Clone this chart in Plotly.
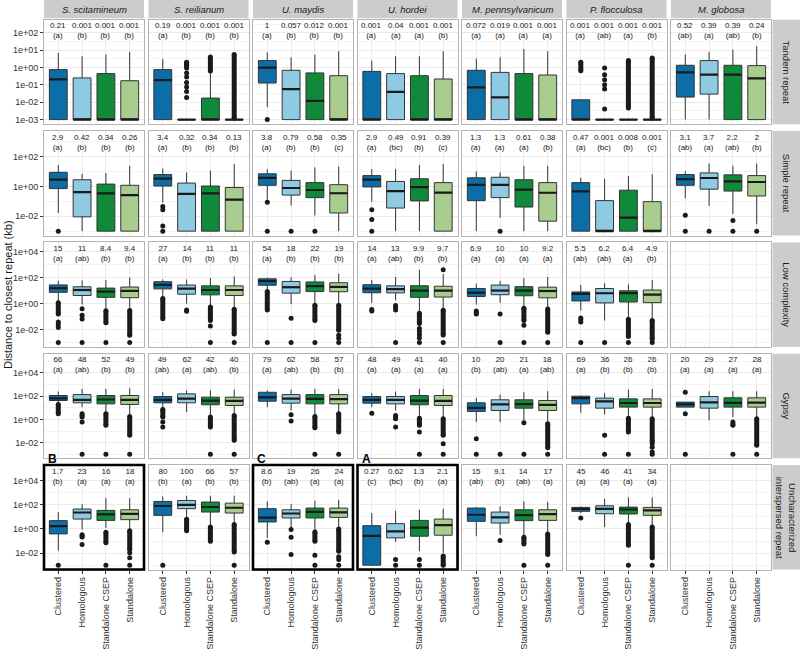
import plotly.graph_objects as go

SPECIES = ["S. scitamineum", "S. reilianum", "U. maydis", "U. hordei",
           "M. pennsylvanicum", "P. flocculosa", "M. globosa"]
REPEATS = ["Tandem repeat", "Simple repeat", "Low complexity", "Gypsy",
           "Uncharacterized<br>interspersed repeat"]
GROUPS = ["Clustered", "Homologous", "Standalone CSEP", "Standalone"]
COLORS = ["#0b6ea6", "#8ecae2", "#108a3a", "#a8cd8e"]

# median distance (kb) printed above each box; None = no data
MEDIAN_LABELS = [
    [["0.21", "0.001", "0.001", "0.001"], ["0.19", "0.001", "0.001", "0.001"], ["1", "0.057", "0.012", "0.001"],
     ["0.001", "0.04", "0.001", "0.001"], ["0.072", "0.019", "0.001", "0.001"], ["0.001", "0.001", "0.001", "0.001"],
     ["0.52", "0.39", "0.39", "0.24"]],
    [["2.9", "0.42", "0.34", "0.26"], ["3.4", "0.32", "0.34", "0.13"], ["3.8", "0.79", "0.58", "0.35"],
     ["2.9", "0.49", "0.91", "0.39"], ["1.3", "1.3", "0.61", "0.38"], ["0.47", "0.001", "0.008", "0.001"],
     ["3.1", "3.7", "2.2", "2"]],
    [["15", "11", "8.4", "9.4"], ["27", "14", "11", "11"], ["54", "18", "22", "19"],
     ["14", "13", "9.9", "9.7"], ["6.9", "10", "10", "9.2"], ["5.5", "6.2", "6.4", "4.9"], None],
    [["66", "48", "52", "49"], ["49", "62", "42", "40"], ["79", "62", "58", "57"],
     ["48", "49", "41", "40"], ["10", "20", "21", "18"], ["69", "36", "26", "26"], ["20", "29", "27", "28"]],
    [["1.7", "23", "16", "18"], ["80", "100", "66", "57"], ["8.6", "19", "26", "24"],
     ["0.27", "0.62", "1.3", "2.1"], ["15", "9.1", "14", "17"], ["45", "46", "41", "34"], None],
]
LETTERS = [
    [["a", "b", "b", "b"], ["a", "b", "b", "b"], ["a", "b", "b", "b"], ["a", "a", "a", "b"],
     ["a", "a", "a", "a"], ["a", "ab", "a", "b"], ["ab", "a", "ab", "b"]],
    [["a", "b", "b", "b"], ["a", "b", "b", "b"], ["a", "b", "b", "c"], ["a", "bc", "b", "c"],
     ["a", "a", "a", "b"], ["a", "bc", "b", "c"], ["ab", "a", "ab", "b"]],
    [["a", "ab", "b", "b"], ["a", "b", "b", "b"], ["a", "b", "b", "b"], ["a", "ab", "b", "b"],
     ["a", "a", "a", "a"], ["ab", "ab", "a", "b"], None],
    [["a", "ab", "b", "b"], ["ab", "a", "ab", "b"], ["a", "ab", "b", "b"], ["a", "a", "a", "a"],
     ["b", "ab", "a", "ab"], ["a", "b", "b", "b"], ["a", "a", "a", "a"]],
    [["b", "a", "a", "a"], ["b", "a", "b", "b"], ["b", "ab", "a", "a"], ["c", "bc", "b", "a"],
     ["ab", "b", "ab", "a"], ["a", "a", "a", "a"], None],
]

# box statistics, log10(kb)
Q3 = [
    [[-0.12, -0.6, -0.35, -0.76], [-0.12, -3, -1.76, -3], [0.4, -0.16, -0.31, -0.47], [-0.22, -0.35, -0.47, -0.66],
     [-0.16, -0.28, -0.35, -0.43], [-1.86, -3, -3, -3], [0.13, 0.4, 0.13, 0.11]],
    [[0.95, 0.45, 0.16, 0.08], [0.8, 0.23, 0.03, -0.07], [0.85, 0.41, 0.26, 0.12], [0.73, 0.34, 0.52, 0.26],
     [0.58, 0.62, 0.45, 0.26], [0.26, -0.95, -0.25, -1.02], [0.8, 0.91, 0.78, 0.73]],
    [[1.43, 1.29, 1.19, 1.27], [1.68, 1.42, 1.36, 1.36], [1.9, 1.7, 1.66, 1.6], [1.45, 1.36, 1.37, 1.33],
     [1.16, 1.42, 1.3, 1.26], [0.89, 1.16, 0.98, 1.04], None],
    [[2.06, 2.14, 2.06, 2.06], [1.97, 2.2, 1.91, 1.91], [2.34, 2.14, 2.14, 2.14], [1.97, 1.97, 2.06, 2.06],
     [1.43, 1.69, 1.69, 1.63], [2.0, 1.83, 1.77, 1.77], [1.49, 1.97, 1.86, 1.86]],
    [[0.69, 1.65, 1.54, 1.59], [2.28, 2.36, 2.23, 2.14], [1.68, 1.59, 1.73, 1.73], [0.27, 0.44, 0.71, 0.82],
     [1.73, 1.4, 1.59, 1.59], [1.79, 1.92, 1.81, 1.79], None],
]
Q1 = [
    [[-3, -3, -3, -3], [-3, -3, -3, -3], [-0.89, -3, -3, -3], [-3, -3, -3, -3],
     [-3, -3, -3, -3], [-3, -3, -3, -3], [-1.7, -1.53, -3, -3]],
    [[-0.14, -2.04, -3, -3], [0.03, -3, -3, -3], [0.08, -0.58, -0.75, -1.78], [-0.03, -1.45, -0.97, -3],
     [-0.95, -0.75, -1.38, -2.33], [-3, -3, -3, -3], [0.08, -0.18, -0.31, -0.64]],
    [[0.86, 0.62, 0.48, 0.45], [1.13, 0.72, 0.67, 0.62], [1.41, 0.8, 0.92, 0.91], [0.83, 0.82, 0.48, 0.5],
     [0.54, 0.68, 0.6, 0.44], [0.2, 0.05, 0.12, 0.07], None],
    [[1.63, 1.43, 1.34, 1.29], [1.43, 1.43, 1.26, 1.2], [1.57, 1.4, 1.34, 1.34], [1.4, 1.34, 1.26, 1.2],
     [0.69, 0.77, 0.97, 0.77], [1.34, 0.97, 1.06, 1.06], [1.06, 0.97, 1.06, 1.06]],
    [[-0.41, 0.82, 0.71, 0.77], [1.13, 1.68, 1.4, 1.32], [0.58, 0.91, 0.91, 0.96], [-3, -0.74, -0.6, -0.52],
     [0.63, 0.49, 0.69, 0.71], [1.46, 1.26, 1.24, 1.13], None],
]
LOWER = [
    [[-3, -3, -3, -3], [-3, -3, -3, -3], [-2.28, -3, -3, -3], [-3, -3, -3, -3],
     [-3, -3, -3, -3], [-3, -3, -3, -3], [-3, -3, -3, -3]],
    [[-1.78, -3, -3, -3], [-1.08, -3, -3, -3], [-0.9, -1.28, -1.95, -3], [-1.02, -3, -3, -3],
     [-3, -2.1, -3, -3], [-3, -3, -3, -3], [-0.8, -1.3, -1.84, -2.54]],
    [[0.19, -0.07, -0.49, -0.46], [0.44, -0.01, -0.19, -0.32], [0.99, -0.05, -0.02, -0.08], [0.04, 0.25, -0.68, -0.44],
     [-0.07, 0.06, -0.26, -0.35], [-0.54, -1.31, -1.12, -1.24], None],
    [[1.34, 1.06, 0.49, 0.34], [0.91, 0.63, 0.2, 0.34], [1.06, 0.77, 0.34, 0.49], [1.06, 0.77, 0.2, 0.14],
     [-0.23, -0.23, -0.09, -0.23], [0.57, 0.43, 0.2, 0.14], [1.06, -0.09, 0.2, 0.14]],
    [[-1.79, -0.05, 0.08, -0.05], [-0.27, 0.92, 0.22, 0.36], [-0.74, 0.08, -0.14, 0.08], [-3, -1.07, -1.84, -1.98],
     [-0.6, -0.47, -0.6, -0.33], [1.3, 0.16, 0.41, 0.22], None],
]
UPPER = [
    [[0.84, 0.65, 0.75, 0.9], [0.5, -3, -0.3, -3], [0.88, 0.59, 0.75, 0.94], [0.4, 0.65, 0.65, 0.94],
     [0.51, 0.59, 1.07, 0.94], [-1.86, -3, -3, -3], [0.75, 0.9, 1.03, 1.23]],
    [[1.44, 0.85, 0.91, 1.39], [1.21, 0.95, 1.06, 1.5], [1.17, 1.06, 1.28, 1.34], [1.17, 1.17, 1.44, 1.5],
     [1.02, 0.95, 1.39, 1.39], [0.58, 0.52, 0.71, 0.82], [1.02, 1.54, 1.39, 1.54]],
    [[1.75, 1.78, 1.81, 2.01], [1.85, 1.84, 1.95, 2.08], [2.0, 2.02, 2.2, 2.29], [1.82, 2.05, 2.6, 2.27],
     [1.53, 1.74, 1.96, 2.04], [1.43, 1.56, 1.48, 1.8], None],
    [[2.4, 2.63, 2.63, 2.69], [2.34, 2.49, 2.49, 2.57], [2.49, 2.57, 2.63, 2.63], [2.26, 2.4, 2.63, 2.63],
     [1.86, 2.14, 2.34, 2.43], [2.06, 2.26, 2.57, 2.63], [1.49, 2.43, 2.43, 2.43]],
    [[1.4, 2.06, 2.55, 2.55], [2.69, 2.75, 2.75, 2.75], [2.28, 2.06, 2.34, 2.42], [1.32, 1.51, 1.59, 1.68],
     [1.81, 1.87, 2.28, 2.23], [1.87, 2.5, 2.61, 2.61], None],
]
# individual outliers, log10(kb)
OUTLIERS = [
    [[[], [], [], []],
     [[], [0.27, 0.15, -0.02, -0.31, -0.54, -0.86, -1.12, -1.38, -1.72], [], []],
     [[-3], [], [], []],
     [[], [], [], []],
     [[], [], [], []],
     [[], [-0.02, -0.41, -0.7, -0.99, -1.24, -2.39], [], []],
     [[], [], [], []]],
    [[[-3], [], [], []],
     [[-1.34, -1.56, -2.66, -3], [], [], []],
     [[-1.06, -3], [-3], [-3], []],
     [[-1.56, -2.22, -3], [], [], []],
     [[], [-3], [], []],
     [[], [], [], []],
     [[-1.93, -3], [-3], [-2.28, -3], [-3]]],
    [[[-1.42, -1.6, -1.84, -3], [-0.39, -0.89, -1.18, -3], [-3], [-3]],
     [[], [-0.5, -0.6], [-1.73, -3], [-3]],
     [[-3], [-1.13, -3], [-3], [-2.43, -2.67, -3]],
     [[-0.45, -0.58], [-0.15, -0.3, -0.5, -3], [-1.91, -2.15, -2.4, -2.65, -3], [2.59, -3]],
     [[-0.57, -0.7, -0.81], [-0.8, -3], [-1.67, -3], [-3]],
     [[-1.1, -1.25, -1.41, -3], [-3], [-3], [-3]],
     None],
    [[[], [0.49, 0.35, 0.2, -0.23, -3], [-3], [-3]],
     [[-0.23, -0.66], [], [-3], [-3]],
     [[], [0.4, -0.14], [-3], [-3]],
     [[0.54], [0.34, 0.2, 0.06, -0.66], [-1.09, -3], [-2.09, -3]],
     [[-1.66, -3], [-3], [-0.29, -3], [-3]],
     [[], [-1.37, -3], [-3], [-2.1, -2.4, -2.8, -3]],
     [[2.34, 0.49, -3], [], [-0.23, -0.4, -0.51, -3], [-3]]],
    [[[-3], [-0.47, -0.58, -0.66, -1.29], [-3], [-1.98, -2.39, -3]],
     [[-3], [], [], [-3]],
     [[-1.1], [-0.05, -0.69, -2.12], [-2.17, -3], [-2.3, -2.53, -3]],
     [[], [-2.53, -3], [-2.53, -3], []],
     [[], [-0.96], [-3], [-3]],
     [[0.91], [], [-3], [-3]],
     None],
]
# stretches where outlier points overlap into a continuous stack: (low, high), log10(kb)
DENSE = [
    [[[], [], [], []],
     [[], [(0.1, 0.3)], [(-0.2, 0.6)], [(-2.9, 0.75)]],
     [[], [], [], []],
     [[], [], [], []],
     [[], [], [], []],
     [[(-0.18, 0.31)], [], [(-2.33, 0.4)], [(-2.9, 0.55)]],
     [[], [], [], []]],
    [[[], [], [], []], [[], [], [], []], [[], [], [], []], [[], [], [], []],
     [[], [], [], []], [[], [], [], []], [[], [], [], []]],
    [[[(-0.8, 0.07)], [], [(-1.47, -0.56)], [(-2.43, -0.54)]],
     [[(-1.16, 0.39)], [], [(-1.31, -0.27)], [(-2.34, -0.44)]],
     [[(-0.49, 0.92)], [], [(-1.3, -0.12)], [(-2.05, -0.13)]],
     [[], [], [(-1.54, -0.75)], [(-2.41, -0.51)]],
     [[], [], [(-1.3, -0.36)], [(-2.2, -0.42)]],
     [[], [], [(-2.53, -1.2)], [(-2.72, -1.31)]],
     None],
    [[[(0.49, 1.29)], [], [(-0.51, 0.49)], [(-1.37, 0.26)]],
     [[(0.2, 0.86)], [], [(-0.66, 0.2)], [(-1.8, 0.34)]],
     [[], [], [(-0.71, 0.26)], [(-1.09, 0.49)]],
     [[], [], [(-0.51, 0.11)], [(-1.37, 0.06)]],
     [[], [], [], [(-2.43, -0.37)]],
     [[], [], [(-1.09, 0.11)], [(-1.9, 0.06)]],
     [[], [], [], [(-2.23, 0.06)]]],
    [[[], [], [(-1.15, -0.27)], [(-1.7, -0.14)]],
     [[], [(-0.14, 0.8)], [(-1.02, 0.16)], [(-1.9, 0.36)]],
     [[], [], [(-1.02, -0.25)], [(-1.84, 0.0)]],
     [[], [], [], [(-3, -2.25)]],
     [[], [], [(-1.24, -0.69)], [(-2.12, -0.41)]],
     [[], [], [(-1.35, 0.36)], [(-2.39, 0.16)]],
     None],
]
Y_RANGES = [(-3.27, 2.75), (-3.3, 3.72), (-3.33, 4.7), (-3.34, 5.66), (-3.36, 5.3)]
Y_MAJOR = [[-3, -2, -1, 0, 1, 2], [-2, 0, 2], [-2, 0, 2, 4], [-2, 0, 2, 4], [-2, 0, 2, 4]]
Y_MINOR = [[-2.5, -1.5, -0.5, 0.5, 1.5, 2.5], [-3, -1, 1, 3], [-3, -1, 1, 3], [-3, -1, 1, 3, 5], [-3, -1, 1, 3, 5]]
HIGHLIGHT = [(4, 0, "B"), (4, 2, "C"), (4, 3, "A")]

W, H = 800, 652
COL_X0 = [44 + c * 104.5 for c in range(7)]
PANEL_W = 100
ROW_Y0 = [19.8 + r * 111.3 for r in range(5)]
PANEL_H = 104.5
FONT = "Liberation Sans, Arial, sans-serif"
OUTLINE = "#333333"

fig = go.Figure()
layout = {}
shapes = []
annotations = []


def fx(px):
    return px / W


def fy(py):
    return 1 - py / H


for r in range(5):
    for c in range(7):
        k = r * 7 + c + 1
        sfx = "" if k == 1 else str(k)
        xa, ya = f"x{sfx}", f"y{sfx}"
        xname, yname = f"xaxis{sfx}", f"yaxis{sfx}"
        x0, y0 = COL_X0[c], ROW_Y0[r]
        layout[xname] = dict(
            domain=[fx(x0), fx(x0 + PANEL_W)], anchor=ya, type="category",
            categoryorder="array", categoryarray=GROUPS, range=[-0.6, 3.6],
            showgrid=True, gridcolor="#ebebeb", gridwidth=1,
            showline=True, mirror=True, linecolor="#b3b3b3", linewidth=1,
            zeroline=False, automargin=False, fixedrange=True,
            showticklabels=(r == 4), ticks="outside" if r == 4 else "",
            ticklen=3, tickcolor="#333333", tickangle=-90,
            tickfont=dict(family=FONT, size=9, color="#333333"),
        )
        layout[yname] = dict(
            domain=[fy(y0 + PANEL_H), fy(y0)], anchor=xa, type="log",
            range=list(Y_RANGES[r]),
            tickmode="array", tickvals=[10 ** e for e in Y_MAJOR[r]],
            ticktext=[f"1e{e:+03d}" for e in Y_MAJOR[r]],
            showgrid=True, gridcolor="#ebebeb", gridwidth=1,
            minor=dict(tickmode="array", tickvals=[10 ** e for e in Y_MINOR[r]],
                       showgrid=True, gridcolor="#f4f4f4", gridwidth=0.6, ticks=""),
            showline=True, mirror=True, linecolor="#b3b3b3", linewidth=1,
            zeroline=False, automargin=False, fixedrange=True,
            showticklabels=(c == 0), ticks="outside" if c == 0 else "",
            ticklen=3, tickcolor="#333333",
            tickfont=dict(family=FONT, size=9, color="#333333"),
        )
        # invisible trace to register categories (keeps grid/ticks on empty panels)
        fig.add_trace(go.Scatter(x=GROUPS, y=[1, 1, 1, 1], mode="markers",
                                 marker=dict(opacity=0), xaxis=xa, yaxis=ya,
                                 showlegend=False, hoverinfo="skip"))
        if MEDIAN_LABELS[r][c] is None:
            continue
        for g in range(4):
            med_label = MEDIAN_LABELS[r][c][g]
            med = float(med_label)
            fig.add_trace(go.Box(
                x=[GROUPS[g]], q1=[10 ** Q1[r][c][g]], median=[med], q3=[10 ** Q3[r][c][g]],
                lowerfence=[10 ** LOWER[r][c][g]], upperfence=[10 ** UPPER[r][c][g]],
                width=0.75, whiskerwidth=0, boxpoints=False,
                fillcolor=COLORS[g], line=dict(color=OUTLINE, width=1),
                xaxis=xa, yaxis=ya, showlegend=False, hoverinfo="skip"))
            # thicker median bar as in the original
            shapes.append(dict(type="line", xref=xa, yref=ya,
                               x0=g - 0.375, x1=g + 0.375, y0=med, y1=med,
                               line=dict(color="#1a1a1a", width=2.2)))
            pts = OUTLIERS[r][c][g]
            if pts:
                fig.add_trace(go.Scatter(
                    x=[GROUPS[g]] * len(pts), y=[10 ** v for v in pts], mode="markers",
                    marker=dict(color="#1a1a1a", size=5), xaxis=xa, yaxis=ya,
                    showlegend=False, hoverinfo="skip"))
            for lo, hi in DENSE[r][c][g]:
                fig.add_trace(go.Scatter(
                    x=[GROUPS[g], GROUPS[g]], y=[10 ** lo, 10 ** hi], mode="lines+markers",
                    line=dict(color="#1a1a1a", width=5),
                    marker=dict(color="#1a1a1a", size=5), xaxis=xa, yaxis=ya,
                    showlegend=False, hoverinfo="skip"))
            annotations.append(dict(
                xref=xa, yref=f"{ya} domain", x=GROUPS[g], y=0.893,
                text=f"{med_label}<br>({LETTERS[r][c][g]})",
                xanchor="center", yanchor="middle", align="center",
                showarrow=False, font=dict(family=FONT, size=8, color="#1a1a1a")))

# strips on top (species)
for c in range(7):
    x0 = COL_X0[c]
    shapes.append(dict(type="rect", xref="paper", yref="paper",
                       x0=fx(x0), x1=fx(x0 + PANEL_W), y0=fy(18.3), y1=fy(0),
                       fillcolor="#cccccc", line=dict(width=0), layer="below"))
    annotations.append(dict(xref="paper", yref="paper", x=fx(x0 + PANEL_W / 2), y=fy(9.3),
                            xanchor="center", yanchor="middle",
                            text=f"<i>{SPECIES[c]}</i>", showarrow=False,
                            font=dict(family=FONT, size=9.5, color="#1a1a1a")))
# strips on right (repeat types)
for r in range(5):
    y0 = ROW_Y0[r]
    shapes.append(dict(type="rect", xref="paper", yref="paper",
                       x0=fx(772.5), x1=fx(800), y0=fy(y0 + PANEL_H), y1=fy(y0),
                       fillcolor="#cccccc", line=dict(width=0), layer="below"))
    annotations.append(dict(xref="paper", yref="paper", x=fx(786.5), y=fy(y0 + PANEL_H / 2),
                            xanchor="center", yanchor="middle",
                            text=REPEATS[r], showarrow=False, textangle=90,
                            font=dict(family=FONT, size=9.5, color="#1a1a1a")))

# highlighted panels with letters
for r, c, lab in HIGHLIGHT:
    x0, y0 = COL_X0[c], ROW_Y0[r]
    shapes.append(dict(type="rect", xref="paper", yref="paper",
                       x0=fx(x0), x1=fx(x0 + PANEL_W), y0=fy(y0 + PANEL_H), y1=fy(y0),
                       line=dict(color="black", width=2.6), fillcolor="rgba(0,0,0,0)"))
    annotations.append(dict(xref="paper", yref="paper", x=fx(x0 + 2), y=fy(y0 - 6),
                            xanchor="left", yanchor="middle", text=f"<b>{lab}</b>",
                            showarrow=False, font=dict(family=FONT, size=12, color="black")))

annotations.append(dict(xref="paper", yref="paper", x=fx(8), y=fy(295),
                        xanchor="center", yanchor="middle",
                        text="Distance to closest repeat (kb)", showarrow=False, textangle=-90,
                        font=dict(family=FONT, size=11, color="#1a1a1a")))

fig.update_layout(**layout)
fig.update_layout(
    template="none", width=W, height=H, autosize=False,
    margin=dict(l=0, r=0, t=0, b=0, pad=0),
    paper_bgcolor="white", plot_bgcolor="white", showlegend=False,
    shapes=shapes, annotations=annotations, boxmode="overlay",
    font=dict(family=FONT),
)
fig.write_html("out.html", config={"displayModeBar": False},
               post_script="document.body.style.margin='0px';")
